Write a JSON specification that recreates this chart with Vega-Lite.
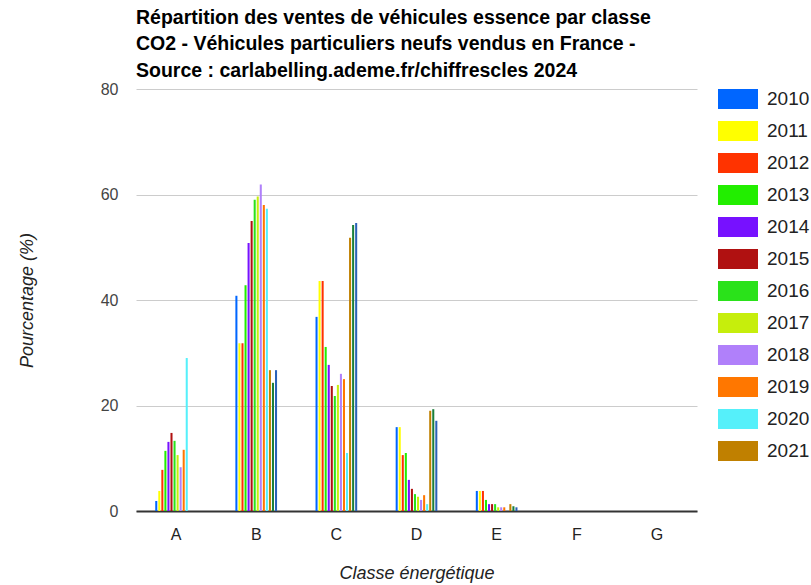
{
  "$schema": "https://vega.github.io/schema/vega-lite/v6.json",
  "width": 561,
  "height": 422,
  "autosize": {"type": "none"},
  "padding": {"left": 136, "top": 89, "right": 114, "bottom": 74},
  "background": "white",
  "config": {
    "font": "Liberation Sans",
    "view": {"stroke": null}
  },
  "title": {
    "text": ["Répartition des ventes de véhicules essence par classe", "CO2 - Véhicules particuliers neufs vendus en France -", "Source : carlabelling.ademe.fr/chiffrescles 2024"],
    "anchor": "start",
    "frame": "group",
    "fontSize": 19.5,
    "fontWeight": "bold",
    "color": "#000000",
    "lineHeight": 26.5,
    "offset": 0
  },
  "data": {
    "values": [
      {"classe": "A", "annee": "2010", "valeur": 1.9},
      {"classe": "A", "annee": "2011", "valeur": 3.8},
      {"classe": "A", "annee": "2012", "valeur": 7.8},
      {"classe": "A", "annee": "2013", "valeur": 11.4},
      {"classe": "A", "annee": "2014", "valeur": 13.1},
      {"classe": "A", "annee": "2015", "valeur": 14.8},
      {"classe": "A", "annee": "2016", "valeur": 13.3},
      {"classe": "A", "annee": "2017", "valeur": 10.6},
      {"classe": "A", "annee": "2018", "valeur": 8.3},
      {"classe": "A", "annee": "2019", "valeur": 11.6},
      {"classe": "A", "annee": "2020", "valeur": 29.0},
      {"classe": "A", "annee": "2021", "valeur": 0},
      {"classe": "A", "annee": "2022", "valeur": 0},
      {"classe": "A", "annee": "2023", "valeur": 0},
      {"classe": "B", "annee": "2010", "valeur": 40.8},
      {"classe": "B", "annee": "2011", "valeur": 31.8},
      {"classe": "B", "annee": "2012", "valeur": 31.8},
      {"classe": "B", "annee": "2013", "valeur": 42.8},
      {"classe": "B", "annee": "2014", "valeur": 50.8},
      {"classe": "B", "annee": "2015", "valeur": 55.0},
      {"classe": "B", "annee": "2016", "valeur": 59.0},
      {"classe": "B", "annee": "2017", "valeur": 59.6},
      {"classe": "B", "annee": "2018", "valeur": 61.9},
      {"classe": "B", "annee": "2019", "valeur": 58.0},
      {"classe": "B", "annee": "2020", "valeur": 57.3},
      {"classe": "B", "annee": "2021", "valeur": 26.7},
      {"classe": "B", "annee": "2022", "valeur": 24.3},
      {"classe": "B", "annee": "2023", "valeur": 26.7},
      {"classe": "C", "annee": "2010", "valeur": 36.8},
      {"classe": "C", "annee": "2011", "valeur": 43.6},
      {"classe": "C", "annee": "2012", "valeur": 43.6},
      {"classe": "C", "annee": "2013", "valeur": 31.1},
      {"classe": "C", "annee": "2014", "valeur": 27.7},
      {"classe": "C", "annee": "2015", "valeur": 23.7},
      {"classe": "C", "annee": "2016", "valeur": 21.8},
      {"classe": "C", "annee": "2017", "valeur": 23.9},
      {"classe": "C", "annee": "2018", "valeur": 26.0},
      {"classe": "C", "annee": "2019", "valeur": 25.0},
      {"classe": "C", "annee": "2020", "valeur": 11.0},
      {"classe": "C", "annee": "2021", "valeur": 51.8},
      {"classe": "C", "annee": "2022", "valeur": 54.2},
      {"classe": "C", "annee": "2023", "valeur": 54.6},
      {"classe": "D", "annee": "2010", "valeur": 15.9},
      {"classe": "D", "annee": "2011", "valeur": 15.9},
      {"classe": "D", "annee": "2012", "valeur": 10.6},
      {"classe": "D", "annee": "2013", "valeur": 11.0},
      {"classe": "D", "annee": "2014", "valeur": 5.9},
      {"classe": "D", "annee": "2015", "valeur": 4.2},
      {"classe": "D", "annee": "2016", "valeur": 3.2},
      {"classe": "D", "annee": "2017", "valeur": 2.7},
      {"classe": "D", "annee": "2018", "valeur": 2.1},
      {"classe": "D", "annee": "2019", "valeur": 3.0},
      {"classe": "D", "annee": "2020", "valeur": 1.3},
      {"classe": "D", "annee": "2021", "valeur": 19.0},
      {"classe": "D", "annee": "2022", "valeur": 19.3},
      {"classe": "D", "annee": "2023", "valeur": 17.1},
      {"classe": "E", "annee": "2010", "valeur": 3.8},
      {"classe": "E", "annee": "2011", "valeur": 3.8},
      {"classe": "E", "annee": "2012", "valeur": 3.8},
      {"classe": "E", "annee": "2013", "valeur": 2.1},
      {"classe": "E", "annee": "2014", "valeur": 1.3},
      {"classe": "E", "annee": "2015", "valeur": 1.3},
      {"classe": "E", "annee": "2016", "valeur": 1.3},
      {"classe": "E", "annee": "2017", "valeur": 0.7},
      {"classe": "E", "annee": "2018", "valeur": 0.7},
      {"classe": "E", "annee": "2019", "valeur": 0.7},
      {"classe": "E", "annee": "2020", "valeur": 0},
      {"classe": "E", "annee": "2021", "valeur": 1.3},
      {"classe": "E", "annee": "2022", "valeur": 0.9},
      {"classe": "E", "annee": "2023", "valeur": 0.7},
      {"classe": "F", "annee": "2010", "valeur": 0},
      {"classe": "G", "annee": "2010", "valeur": 0}
    ]
  },
  "mark": {"type": "bar"},
  "encoding": {
    "x": {
      "field": "classe",
      "type": "nominal",
      "sort": ["A", "B", "C", "D", "E", "F", "G"],
      "scale": {"paddingInner": 0.48, "paddingOuter": 0.24},
      "axis": {
        "title": "Classe énergétique",
        "titleFontStyle": "italic",
        "titleFontWeight": "normal",
        "titleFontSize": 18,
        "titleColor": "#222222",
        "titlePadding": 22,
        "labelAngle": 0,
        "labelFontSize": 16,
        "labelColor": "#222222",
        "labelPadding": 15,
        "ticks": false,
        "domainColor": "#333333",
        "domainWidth": 2
      }
    },
    "xOffset": {
      "field": "annee",
      "type": "nominal",
      "scale": {"paddingInner": 0.33}
    },
    "y": {
      "field": "valeur",
      "type": "quantitative",
      "scale": {"domain": [0, 80]},
      "axis": {
        "values": [0, 20, 40, 60, 80],
        "title": "Pourcentage (%)",
        "titleFontStyle": "italic",
        "titleFontWeight": "normal",
        "titleFontSize": 18,
        "titleColor": "#222222",
        "titlePadding": 64,
        "labelFontSize": 16,
        "labelColor": "#444444",
        "labelPadding": 18,
        "ticks": false,
        "domain": false,
        "gridColor": "#cccccc",
        "gridWidth": 1
      }
    },
    "color": {
      "field": "annee",
      "type": "nominal",
      "scale": {
        "domain": ["2010", "2011", "2012", "2013", "2014", "2015", "2016", "2017", "2018", "2019", "2020", "2021", "2022", "2023"],
        "range": ["#0066ff", "#ffff00", "#ff3300", "#22ee00", "#7711ff", "#b01111", "#2ae21a", "#c6ee0c", "#b080fa", "#ff7700", "#55f0fa", "#c08000", "#1a7f3a", "#2a62b8"]
      },
      "legend": {
        "title": null,
        "values": ["2010", "2011", "2012", "2013", "2014", "2015", "2016", "2017", "2018", "2019", "2020", "2021"],
        "orient": "right",
        "offset": 21,
        "symbolType": "M-1,-1H3V1H-1Z",
        "symbolSize": 400,
        "symbolStrokeWidth": 0,
        "symbolOpacity": 1,
        "labelFontSize": 19,
        "labelColor": "#222222",
        "labelOffset": 29,
        "rowPadding": 12
      }
    }
  }
}
